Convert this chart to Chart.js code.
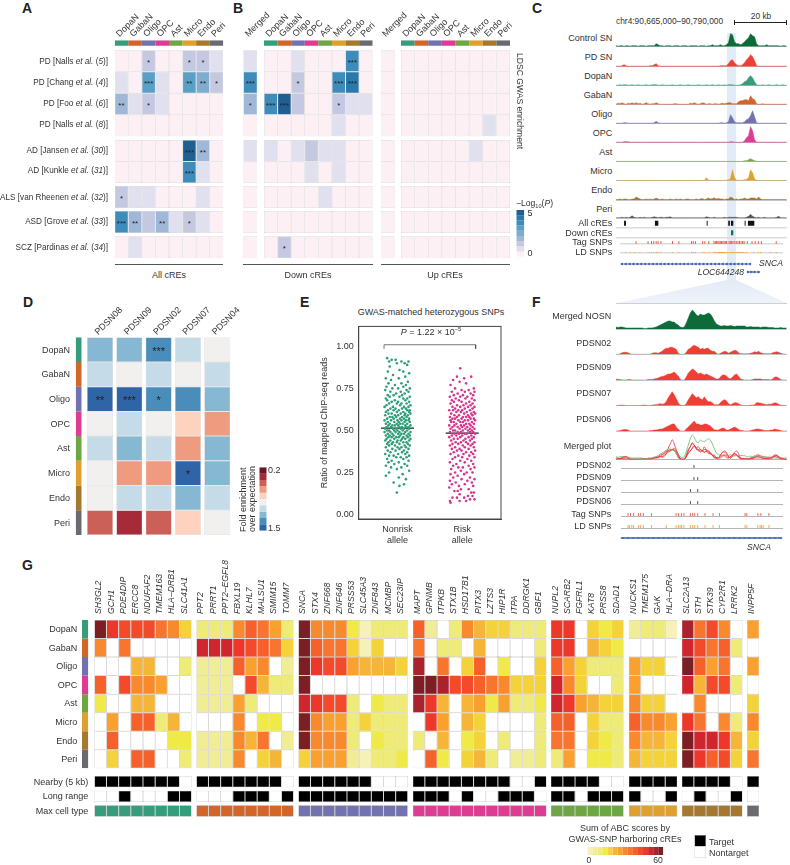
<!DOCTYPE html>
<html>
<head>
<meta charset="utf-8">
<title>Panels A-G</title>
<script src="https://cdn.jsdelivr.net/npm/chart.js@4/dist/chart.umd.min.js"></script>
<style>
  html, body { margin: 0; background: #fff; }
  #page { position: relative; width: 790px; height: 865px; overflow: hidden; font-family: "Liberation Sans", Arial, sans-serif; color: #333; }
  #page canvas { position: absolute; }
  .txt { position: absolute; white-space: nowrap; line-height: 1; }
  .rule { position: absolute; }
  sup, sub { font-size: 65%; line-height: 0; }
</style>
</head>
<body>
<div id="page"></div>
<script>
// Shared names
const cellNames = ['DopaN', 'GabaN', 'Oligo', 'OPC', 'Ast', 'Micro', 'Endo', 'Peri'];
const cellColors = ['#369d7c', '#d2652a', '#7272b0', '#dc3d92', '#6fa644', '#e0a030', '#a5772f', '#6a6a70'];

// Panels A and B: -log10(P) levels, rows are the GWAS studies
const ldscStudies = ['PD [Nalls <i>et al.</i> (<i>5</i>)]', 'PD [Chang <i>et al.</i> (<i>4</i>)]', 'PD [Foo <i>et al.</i> (<i>6</i>)]', 'PD [Nalls <i>et al.</i> (<i>8</i>)]', 'AD [Jansen <i>et al.</i> (<i>30</i>)]', 'AD [Kunkle <i>et al.</i> (<i>31</i>)]', 'ALS [van Rheenen <i>et al.</i> (<i>32</i>)]', 'ASD [Grove <i>et al.</i> (<i>33</i>)]', 'SCZ [Pardinas <i>et al.</i> (<i>34</i>)]'];
const ldscColors = ['#fdf0f5', '#e0e0ee', '#c4c8e0', '#a0b8d8', '#7fadcf', '#5a9fc5', '#3d8cba', '#2b79aa', '#1f5f92'];
const allCres = [[0,0,2,0,0,2,2,1],[1,0,5,1,0,5,4,2],[3,1,2,1,0,0,0,0],[0,0,0,0,0,0,0,0],[0,0,0,0,0,8,3,0],[0,0,0,0,0,6,1,0],[2,1,1,0,0,0,1,0],[6,3,2,3,1,2,1,0],[0,1,0,0,0,0,0,0]];
const allStars = [[0,0,1,0,0,1,1,0],[0,0,3,0,0,2,2,1],[2,0,1,0,0,0,0,0],[0,0,0,0,0,0,0,0],[0,0,0,0,0,3,2,0],[0,0,0,0,0,3,0,0],[1,0,0,0,0,0,0,0],[3,2,0,2,0,1,0,0],[0,0,0,0,0,0,0,0]];
const downMerged = [1,6,3,0,1,0,0,0,0];
const downMergedStars = [0,3,1,0,0,0,0,0,0];
const downCres = [[0,0,1,0,0,0,6,0],[0,0,2,0,0,6,7,0],[6,8,2,0,0,2,1,1],[0,0,0,0,0,1,0,0],[1,0,1,2,1,1,0,0],[0,0,0,1,0,1,0,0],[0,0,0,0,1,0,0,0],[0,0,0,0,0,0,0,0],[0,2,0,0,0,0,0,0]];
const downStars = [[0,0,0,0,0,0,3,0],[0,0,1,0,0,3,3,0],[3,3,0,0,0,1,0,0],[0,0,0,0,0,0,0,0],[0,0,0,0,0,0,0,0],[0,0,0,0,0,0,0,0],[0,0,0,0,0,0,0,0],[0,0,0,0,0,0,0,0],[0,1,0,0,0,0,0,0]];
const upMerged = [0,0,0,0,0,0,0,0,0];
const upCres = [[0,0,0,0,0,0,0,0],[0,0,0,0,0,0,0,0],[0,0,0,0,0,0,0,0],[0,0,0,0,0,0,1,0],[0,0,0,0,0,1,0,0],[0,0,0,0,0,0,0,0],[0,0,0,0,0,0,0,0],[0,0,0,0,0,0,0,0],[0,0,0,0,0,0,0,0]];

// Panel C: signal per 1.45 kb bin along the 125 kb window
const controlSN = [1,.5,1,1,.5,1,1,.5,1,1,1,.5,1,1,1,.5,1,1,1,1,3,2,1,1,.5,1,1,1,.5,1,1,1,.5,1,1,1,.5,1,1,1,1,.5,1,1,1,.5,1,1,2,1,1,1,2,1,1,2,4,13,12,5,3,3,2,3,5,7,9,13,11,10,3,1,1,1,1,2,1,1,1,1,1,1,.5,1,1,.5];
const pdSN = [.5,.5,.5,1,2,1,.5,.5,.5,.5,.5,.5,.5,.5,.5,.5,.5,1,1,2,3,1,.5,.5,.5,.5,.5,.5,.5,.5,.5,.5,.5,.5,.5,.5,.5,.5,.5,.5,.5,.5,.5,.5,.5,.5,.5,.5,.5,.5,.5,.5,1,1,1,1,3,6,7,4,2,1,1,2,4,7,9,12,10,6,1,.5,.5,.5,.5,.5,.5,.5,.5,.5,.5,.5,.5,.5,.5,.5];
const dopaSignal = [.5,.5,1,.5,1,1,.5,.5,1,.5,.5,1,.5,.5,.5,1,.5,.5,1,1,1,.5,.5,1,.5,.5,.5,.5,1,.5,.5,.5,1,.5,.5,.5,1,.5,.5,.5,.5,1,.5,.5,.5,1,.5,.5,1,.5,.5,1,.5,.5,1,.5,1,1,1,.5,.5,.5,1,2,4,5,8,10,8,4,1,.5,.5,1,.5,.5,1,.5,.5,.5,1,.5,.5,1,.5,.5];
const gabaSignal = [.5,1.5,1,2,1,.5,1.5,1,2,1,2,1,1.5,.5,1,2,1,.5,1,1,2,1,.5,.5,.5,.5,.5,.5,.5,1,1,.5,.5,.5,.5,.5,.5,1.5,1,2,1,.5,1,2,1.5,.5,1,1,.5,1,1,.5,1,1.5,1,1.5,2,2,1,1,1,3,4,4,5,5,4,9,6,5,1,.5,.5,1,.5,.5,.5,.5,.5,.5,.5,.5,.5,.5,.5,.5];
const oligoSignal = [.5,.5,.5,.5,1,1,.5,.5,.5,.5,.5,.5,.5,.5,.5,.5,.5,.5,.5,1,2.5,1,.5,.5,.5,.5,.5,.5,.5,.5,.5,.5,.5,.5,.5,.5,.5,.5,.5,.5,.5,.5,.5,.5,.5,.5,.5,.5,.5,.5,.5,.5,1,1,.5,1,2,9,6,2,1,1,1,1,2,4,5,8,13,7,1,.5,.5,.5,.5,.5,.5,.5,.5,.5,.5,.5,.5,.5,.5,.5];
const opcSignal = [.5,.5,.5,.5,1,1,1,.5,.5,.5,.5,.5,.5,.5,.5,.5,.5,.5,.5,.5,.5,.5,.5,.5,.5,.5,.5,.5,.5,.5,.5,.5,.5,.5,.5,.5,.5,.5,.5,.5,.5,.5,.5,.5,.5,.5,.5,.5,.5,.5,.5,.5,.5,.5,.5,.5,.5,1,1,.5,.5,.5,.5,.5,2,5,7,16,12,3,.5,.5,.5,.5,.5,.5,.5,.5,.5,.5,.5,.5,.5,.5,.5,.5];
const astSignal = [.3,.3,.3,.3,.3,.3,.3,.3,.3,.3,.3,.3,.3,.3,.3,.3,.3,.3,.3,.3,.3,.3,.3,.3,.3,.3,.3,.3,.3,.3,.3,.3,.3,.3,.3,.3,.3,.3,.3,.3,.3,.3,.3,.3,.3,.3,.3,.3,.3,.3,.3,.3,.3,.3,.3,.3,.3,.3,.3,.3,.3,.3,.3,.3,1,1,2,3,2,1,.5,.3,.3,.3,.3,.3,.3,.3,.3,.3,.3,.3,.3,.3,.3,.3];
const microSignal = [.3,.3,.3,.3,.3,.3,.3,.3,.5,.3,.3,.3,.3,.3,.3,.3,.5,.3,.3,.3,.3,.3,.3,.3,.3,.3,.3,.3,.3,.3,.3,.3,.3,.3,.3,.3,.3,.3,.3,.3,.3,.3,.3,.3,.5,3,1,.3,.3,.3,.3,.3,.3,.3,.3,.5,1,2,11,3,.5,.3,.5,.5,1,1.5,3,11,8,2,.5,.3,.3,.3,.3,.3,.3,.3,.3,.3,.3,.3,.3,.3,.3,.3];
const endoSignal = [.5,.5,1,.5,1,1,.5,.5,1,1,3,2,1,.5,.5,1,.5,1,.5,1,2,1,.5,1,.5,.5,.5,1,.5,.5,1,.5,1,.5,.5,1,1,.5,.5,.5,1,.5,1,1.5,.5,1,2,1,1.5,2,1,1.5,1,1,.5,1,1,3,2,.5,1,.5,1,1,2,1,1,2,2,2,1,3,1,.5,.5,.5,.5,.5,.5,.5,.5,.5,.5,.5,.5,.5];
const periSignal = [.5,.5,.5,1,.5,1,.5,1,2.5,1,.5,.5,1,.5,1,.5,.5,.5,1,1.5,1,.5,1,1,.5,1,1,1.5,.5,.5,.5,.5,.5,.5,.5,.5,.5,.5,.5,.5,.5,.5,.5,.5,.5,1.5,1,.5,.5,1,.5,.5,.5,.5,1,.5,1,1,1,1,1,.5,.5,.5,.5,1,2,4,2,1,.5,1,.5,.5,1,.5,.5,.5,.5,.5,1,2,.5,.5,.5,.5];
const allCreSpans = [[5.9,7.3],[28.5,31],[66.4,67.1],[82.2,83.4],[84.2,85.9],[94.2,94.9],[96.6,101.3]];
const downCreSpans = [[84.2,85.9]];
const tagSnpKb = [11.7,21,23.7,25.4,27.3,28.8,31,40,44.9,54.7,56.1,57.8,63.4,65.1,68.1,72.2,73.2,74.2,75.2,76.1,77.1,78.1,79.1,80,81,82,83.9,84.9,85.9,86.9,88.3,89.5,90.8,92,93.2,94.4,95.6,98.1,101.7,104.2,106.6,109,120.5];
const ldSnpKb = [3.7,7.3,10.7,14.6,21,23.7,25.4,27.3,28.8,31,40,44.9,54.7,56.1,57.8,63.4,65.1,68.1,72.2,72.9,73.6,74.4,75.1,75.8,76.6,77.3,78,78.8,79.5,80.2,81,81.7,82.4,84,84.8,85.5,86.3,87,87.8,88.5,89.3,90,90.8,91.5,92.3,93,93.8,95,96.3,97.5,103,106.6,108.3,115.9,120.5];
const sncaArrowsKb = [1,4,7,10,13,16,19,22,25,28,31,34,37,40,43,46,49,52,55,58,61,64,67,70,73,76,79,82,85,88,91,94,97,100];
const locArrowsKb = [98.5,101,103.5,106.5];

// Panel D: fold enrichment levels, rows are cell types
const donors = ['PDSN08', 'PDSN09', 'PDSN02', 'PDSN07', 'PDSN04'];
const foldColors = ['#2f64a6', '#4a8dbb', '#86b8d3', '#c5dbe7', '#f1f0ee', '#fdd3bf', '#ee9b7f', '#cb6058', '#a62a37', '#6c1429'];
const foldLevels = [[2,2,1,3,4],[3,4,3,4,3],[0,0,1,1,2],[4,3,4,5,6],[3,2,3,6,2],[4,6,6,0,2],[4,3,3,2,3],[7,8,7,5,4]];
const foldStars = [[0,0,3,0,0],[0,0,0,0,0],[2,3,1,0,0],[0,0,0,0,0],[0,0,0,0,0],[0,0,0,1,0],[0,0,0,0,0],[0,0,0,0,0]];

// Panel E: [jitter in hundredths, ratio in hundredths]
const nonriskReads = [[-16,93],[-9,92],[-3,92],[-13,91],[6,91],[17,91],[11,90],[-1,90],[15,89],[-12,88],[3,86],[-15,85],[9,85],[18,84],[-7,83],[12,82],[-18,81],[2,81],[-10,80],[16,79],[6,78],[-14,78],[13,77],[-4,77],[-17,76],[9,76],[19,75],[-8,75],[1,75],[-19,74],[14,74],[-11,73],[5,73],[17,73],[-2,72],[11,72],[-15,71],[7,71],[-6,71],[19,70],[-12,70],[3,70],[15,69],[-18,69],[9,69],[-4,68],[12,68],[-16,68],[1,67],[18,67],[-9,67],[6,66],[-13,66],[14,66],[-1,66],[20,65],[-17,65],[4,65],[10,64],[-7,64],[17,64],[-20,64],[-3,63],[13,63],[7,63],[-11,63],[19,62],[-15,62],[2,62],[15,62],[-6,62],[9,61],[-18,61],[18,61],[-1,61],[12,60],[-9,60],[5,60],[-14,60],[20,60],[-4,59],[11,59],[-19,59],[1,59],[16,59],[-8,58],[7,58],[-12,58],[14,58],[-2,58],[18,57],[-16,57],[4,57],[10,57],[-6,57],[-20,56],[13,56],[0,56],[-10,56],[17,56],[6,56],[-15,55],[2,55],[19,55],[-5,55],[11,55],[-12,54],[8,54],[-18,54],[15,54],[-1,54],[4,54],[-8,53],[20,53],[-14,53],[12,53],[1,53],[-4,53],[17,52],[-17,52],[7,52],[-10,52],[13,52],[3,52],[-2,51],[-19,51],[10,51],[18,51],[-7,51],[5,51],[-13,50],[15,50],[0,50],[-16,50],[8,50],[-5,50],[20,49],[-11,49],[3,49],[12,49],[-20,49],[-3,49],[17,48],[-8,48],[6,48],[-15,48],[10,48],[1,48],[-12,47],[19,47],[-6,47],[14,47],[4,47],[-18,47],[9,46],[-2,46],[-14,46],[16,46],[-9,46],[2,46],[20,45],[-17,45],[7,45],[-5,45],[12,45],[-11,44],[0,44],[18,44],[-19,44],[5,44],[-7,43],[14,43],[-14,43],[9,43],[-1,43],[16,42],[-16,42],[3,42],[-9,42],[11,41],[-4,41],[19,41],[-13,41],[6,40],[-18,40],[13,40],[0,40],[-8,39],[17,39],[3,39],[-15,38],[10,38],[-3,38],[-11,37],[15,37],[7,37],[-19,36],[1,36],[12,36],[-6,35],[18,35],[-13,35],[5,34],[-2,34],[14,34],[-16,33],[9,33],[-9,32],[17,32],[2,31],[-14,31],[11,30],[-5,30],[-18,29],[15,29],[6,28],[-10,28],[-1,27],[18,26],[-13,25],[8,24],[-18,23],[2,22],[13,21],[-6,19],[10,18],[3,17],[-1,13]];
const riskReads = [[-3,87],[14,82],[-8,82],[3,81],[-14,80],[-4,79],[6,78],[-18,77],[18,75],[-11,75],[10,74],[-1,74],[19,73],[-16,73],[4,73],[13,72],[-7,72],[-13,71],[17,71],[1,71],[8,70],[-19,70],[-3,70],[15,69],[-10,69],[5,69],[-16,68],[19,68],[-5,68],[11,67],[-1,67],[-13,67],[16,66],[6,66],[-18,66],[-8,65],[2,65],[13,65],[19,64],[-15,64],[-3,64],[9,64],[-11,63],[16,63],[4,63],[-20,62],[-6,62],[12,62],[0,62],[-14,62],[18,61],[7,61],[-9,61],[-2,61],[14,60],[-17,60],[3,60],[20,60],[-12,59],[9,59],[-5,59],[16,59],[-19,58],[1,58],[11,58],[-8,58],[6,58],[-15,57],[18,57],[-1,57],[13,57],[-11,57],[4,56],[-18,56],[20,56],[-6,56],[9,56],[-13,55],[15,55],[1,55],[-3,55],[-17,55],[11,54],[6,54],[-9,54],[18,54],[-20,53],[-2,53],[13,53],[-12,53],[3,53],[16,52],[-7,52],[8,52],[-15,52],[0,52],[-18,51],[12,51],[19,51],[-4,51],[5,51],[-11,50],[15,50],[-14,50],[1,50],[9,50],[-7,49],[17,49],[-19,49],[-2,49],[12,49],[4,48],[-12,48],[20,48],[-5,48],[7,48],[-16,47],[14,47],[0,47],[-9,47],[18,46],[-3,46],[10,46],[-20,46],[5,45],[-13,45],[15,45],[-7,45],[2,44],[-17,44],[12,44],[19,43],[-10,43],[6,43],[-2,43],[-15,42],[16,42],[9,42],[-6,42],[1,41],[-19,41],[13,41],[-11,40],[18,40],[4,40],[-4,39],[-16,39],[10,39],[20,38],[-8,38],[-1,38],[14,37],[-13,37],[6,37],[-18,36],[2,36],[17,36],[-6,35],[11,35],[-11,34],[19,34],[0,34],[-15,33],[8,33],[-3,32],[14,32],[-19,31],[4,31],[-9,30],[17,30],[-14,29],[10,29],[1,28],[-6,28],[19,28],[-17,27],[13,27],[-2,26],[7,25],[-11,25],[16,25],[-18,24],[3,24],[-7,23],[12,22],[-14,22],[19,21],[-1,21],[-19,20],[8,20],[-10,19],[15,19],[-16,18],[4,18],[-5,17],[17,17],[-20,16],[10,15],[-2,15],[-12,14],[-7,14],[14,13],[18,13],[-4,12],[9,11],[16,11],[-15,10],[-8,10],[3,10],[12,9],[19,9],[-19,8],[-4,8],[6,8],[-18,7]];
const eTicks = [0, .25, .5, .75, 1];
const nonriskMean = .514;
const riskMean = .484;

// Panel F: finer signal across the SNCA window
const mergedNOSN = [2,1.5,2,2,1.5,1,1,1,1,1,1,1,1,1,.5,.5,1,1,1,1.5,2,3,4,5,6,7,8,8,7,7,5,4,2,1.5,2,6,11,16,19,17,14,13,15,14,14,15,16,15,12,8,5,4,3,3,3.5,3,3,3.5,3,2.5,3,3,3,3,3,2,2,2.5,2,2,2,2,1.5,2,2,2,1.5,1.5,1.5,1,1,1,1.5,1,1,1];
const pdsn02Signal = [0,0,.5,1.5,2,2,1.5,.5,0,0,0,0,0,0,0,0,0,0,1,1.5,1.5,1,2,3,5,6,6,7,7,6,5,1,0,0,0,2,5,6,8,9,8,7,5,6,5,6,6,4,3,3,1,0,1,2,3,2.5,1,2,3,4,3.5,1.5,.5,.5,.5,.5,.5,1,1.5,2.5,2,3,1.5,1,.5,.5,.5,.5,1.5,2,2.5,2,1,.5,0,0];
const pdsn09Signal = [1,.5,.5,0,0,0,.5,.5,0,0,0,0,0,0,0,0,.5,.5,.5,1,1.5,2,3,3.5,4,5,6,6,7,8,6,4,.5,0,0,3,7,9,11,10,8,6,7,6,5,6,5,4,3,2,1,1,3,5,5,4,2,1,3,5,6,4,1,.5,0,0,0,0,.5,1,1,1,1,.5,.5,.5,.5,0,1,3,3,2,.5,0,0,0];
const pdsn07Signal = [0,0,.5,.5,.5,0,0,0,0,0,0,0,0,.5,.5,.5,0,0,.5,1,1,1.5,2,1.5,2,4,8,11,14,11,7,3,.5,0,0,2,6,9,12,10,8,9,7,6,9,6,4,4,3,1,1,1,3,5,6,5,2,1,2,3,3,2,1,0,0,0,0,.5,.5,1,3,3,2.5,2,1.5,1,1.5,1.5,2,3,2.5,1.5,.5,.5,0,0];
const pdsn06Signal = [0,0,.5,1,1.5,1.5,1,0,0,0,0,0,0,0,0,0,0,.5,.5,1,1,1.5,2,2,3,4,5,6,7,7,4,2,0,0,0,2,4,6,8,10,7,7,6,6,7,7,6,5,3,1,1,1,2,3,2.5,1,1,2,3,4,3,1.5,.5,.5,0,0,0,.5,1,1.5,2,2,1.5,1,.5,.5,.5,1,1,2,1.5,1,.5,0,0,0];
const snpPdsn02 = [2.9];
const snpPdsn09 = [2.9, 3.05];
const snpPdsn07 = [2.76, 3.05];
const snpPdsn06 = [2.76, 3.05];
const tagSnpNear = [.28,.38,.5,.69,.78,.89,1.21,2.19,2.29,2.4,2.5,2.76,2.85,2.93,3.05,3.34,3.66,3.91,4.93,5,5.44,5.56,5.88];
const ldSnpNear = [.28,.34,.43,.5,.7,.78,.89,1.21,1.8,2.19,2.28,2.35,2.41,2.5,2.76,2.85,2.93,3.05,3.34,3.66,3.91,4.93,5,5.44,5.53,5.59,5.65,5.88];
const sncaHatchNear = [.1,.3,.5,.7,.9,1.1,1.3,1.5,1.7,1.9,2.1,2.3,2.5,2.7,2.9,3.1,3.3,3.5,3.7,3.9,4.1,4.3,4.5,4.7,4.9,5.1,5.3,5.5,5.7,5.9,6.1,6.3];

// Panel G: ABC score levels (0 = no score), one table per max cell type
const abcColors = ['#ffffff', '#f5f1b8', '#f1ed97', '#efeb78', '#f0ea48', '#f4d33a', '#f5b539', '#f9a02f', '#f88a2d', '#f7752e', '#f5602b', '#f24a2a', '#ee372b', '#d0252f', '#a8232d', '#7b1f24'];
const geneGroups = [
  ['SH3GL2', 'GCH1', 'PDE4DIP', 'ERCC8', 'NDUFAF2', 'TMEM163', 'HLA–DRB1', 'SLC41A1'],
  ['PPT2', 'PRRT1', 'PPT2–EGFL8', 'FBXL19', 'KLHL7', 'MALSU1', 'SMIM15', 'TOMM7'],
  ['SNCA', 'STX4', 'ZNF668', 'ZNF646', 'PRSS53', 'SLC45A3', 'ZNF843', 'MCMBP', 'SEC23IP'],
  ['MAPT', 'GPNMB', 'ITPKB', 'STX1B', 'HSD17B1', 'PITX3', 'LZTS3', 'HIP1R', 'ITPA', 'DDRGK1', 'GBF1'],
  ['NUPL2', 'SCARB2', 'FGFRL1', 'KAT8', 'PRSS8', 'SDAD1'],
  ['NUCKS1', 'TMEM175', 'GAK', 'HLA–DRA'],
  ['SLC2A13', 'STH', 'STK39', 'CYP2R1', 'LRRK2'],
  ['INPP5F']
];
const abcScores = [
  [[15,12,11,11,11,9,8,5],[8,0,9,0,0,0,0,0],[0,0,0,6,6,0,0,3],[10,0,11,8,8,7,0,0],[4,0,0,6,6,0,0,0],[0,7,0,10,10,3,6,0],[0,10,0,0,0,0,4,4],[0,5,0,10,10,0,0,3]],
  [[3,3,3,8,10,9,7,3],[13,13,13,12,11,10,9,5],[2,2,2,10,7,8,0,2],[2,2,2,0,11,6,3,3],[2,2,2,7,3,0,0,0],[0,0,0,8,0,4,4,0],[2,2,2,8,6,9,0,2],[2,2,2,8,0,5,6,0]],
  [[15,8,8,8,4,1,3,3,3],[15,10,9,9,5,1,5,0,0],[15,12,11,11,7,6,6,6,5],[15,0,0,0,0,0,0,0,0],[13,12,11,11,3,0,4,3,3],[15,8,7,7,3,5,3,3,3],[15,8,8,8,3,0,4,3,3],[5,7,7,7,2,1,3,3,4]],
  [[10,2,0,3,8,6,5,5,3,3,3],[9,0,3,3,0,6,0,0,0,0,3],[14,0,9,0,5,10,0,4,0,0,5],[15,15,14,11,11,10,9,8,5,5,5],[14,12,6,0,6,7,4,7,3,3,4],[0,12,7,0,6,5,0,0,0,0,3],[3,0,6,0,4,5,0,3,0,0,3],[0,10,4,0,5,6,3,0,2,2,3]],
  [[12,12,0,5,4,5],[12,12,0,6,5,4],[10,7,5,3,3,3],[13,8,5,0,0,3],[13,12,7,6,5,5],[10,10,0,5,3,3],[9,9,0,5,4,3],[3,7,0,4,4,3]],
  [[2,3,3,1],[0,0,0,0],[7,5,5,0],[7,0,0,0],[8,5,5,0],[10,8,8,7],[8,6,6,5],[6,5,5,5]],
  [[14,9,11,8,0],[13,11,9,10,3],[15,10,7,9,0],[13,6,11,11,3],[0,8,0,0,0],[12,9,0,8,3],[15,13,13,12,6],[15,12,10,11,5]],
  [[7],[0],[7],[0],[5],[8],[5],[9]]
];
const nearby5kb = [[1,1,1,1,1,1,1,0],[1,1,1,1,1,1,1,0],[1,1,1,1,1,1,0,0,0],[1,1,1,1,1,1,1,1,0,0,1],[1,1,1,1,0,0],[1,1,1,1],[1,1,1,1,0],[1]];
const longRange = [[0,0,1,0,0,0,1,1],[0,0,0,1,1,1,0,1],[1,1,1,1,1,1,1,1,1],[1,1,1,0,1,0,0,1,1,1,0],[1,1,0,1,1,1],[1,0,0,1],[0,1,0,0,1],[0]];

// Helpers
const page = document.getElementById('page');
const cellLine = '#b4b0b4';
Chart.defaults.font.family = '"Liberation Sans", Arial, sans-serif';
Chart.defaults.color = '#333';
Chart.defaults.animation = false;
Chart.defaults.responsive = false;
Chart.defaults.devicePixelRatio = 1;
Chart.defaults.events = [];
Chart.defaults.plugins.legend.display = false;
Chart.defaults.plugins.tooltip.enabled = false;

// prints the asterisks kept on a dataset over its bars
Chart.register({
  id: 'cellStars',
  afterDatasetsDraw(chart) {
    const ctx = chart.ctx;
    chart.data.datasets.forEach((ds, i) => {
      if (!ds.stars) return;
      chart.getDatasetMeta(i).data.forEach((bar, k) => {
        if (!ds.stars[k]) return;
        const size = ds.starSize || 8;
        ctx.save();
        ctx.fillStyle = '#222';
        ctx.font = size + 'px "Liberation Sans"';
        ctx.textAlign = 'center';
        ctx.textBaseline = 'middle';
        ctx.fillText('*'.repeat(ds.stars[k]), bar.x, (bar.y + bar.base) / 2 + size * .2);
        ctx.restore();
      });
    });
  }
});

function mount(x, y, w, h, right = 0, bottom = 1, extraLeft = 0) {
  const canvas = document.createElement('canvas');
  const cx = Math.floor(x - extraLeft), cy = Math.floor(y);
  const left = x - cx, top = y - cy;
  const cw = Math.ceil(left + w + right), ch = Math.ceil(top + h + bottom);
  canvas.width = cw;
  canvas.height = ch;
  canvas.style.left = cx + 'px';
  canvas.style.top = cy + 'px';
  canvas.style.width = cw + 'px';
  canvas.style.height = ch + 'px';
  page.appendChild(canvas);
  return { canvas, padding: { left, top, right: cw - left - w, bottom: ch - top - h } };
}

function label(html, x, y, opt = {}) {
  const el = document.createElement('div');
  el.className = 'txt';
  el.innerHTML = html;
  const shift = { left: '0', center: '-50%', right: '-100%' }[opt.align || 'left'];
  el.style.left = x + 'px';
  el.style.top = y + 'px';
  el.style.fontSize = (opt.size || 9) + 'px';
  if (opt.bold) el.style.fontWeight = 'bold';
  if (opt.color) el.style.color = opt.color;
  el.style.transform = 'translate(' + shift + ',-50%)' + (opt.rotate ? ' rotate(' + opt.rotate + 'deg)' : '');
  page.appendChild(el);
}

function rule(x, y, w, h, color) {
  const el = document.createElement('div');
  el.className = 'rule';
  el.style.cssText += 'left:' + x + 'px;top:' + y + 'px;width:' + w + 'px;height:' + h + 'px;background:' + color;
  page.appendChild(el);
  return el;
}

// heatmap as a stacked bar chart: each entry of rows is one stacked layer, without colors it is a spacer
function cellChart(x, y, w, rows, opt = {}) {
  const cols = opt.labels || rows.find(r => r.colors).colors.map(() => '');
  const total = rows.reduce((s, r) => s + r.h, 0);
  const head = opt.labels ? opt.head : 0;
  const box = mount(x, y - head, w, total + head, opt.labels ? 34 : 0, 1, opt.labels ? 14 : 0);
  new Chart(box.canvas, {
    type: 'bar',
    data: {
      labels: cols,
      datasets: rows.map(r => ({
        data: cols.map(() => r.h),
        backgroundColor: r.colors || 'transparent',
        borderColor: r.colors ? (r.line || cellLine) : 'transparent',
        borderWidth: r.colors && r.line !== 'none' ? .5 : 0,
        borderSkipped: false,
        inflateAmount: 0,
        barPercentage: 1,
        categoryPercentage: opt.fill || 1,
        stars: r.stars,
        starSize: opt.starSize
      }))
    },
    options: {
      layout: { padding: box.padding },
      scales: {
        x: {
          stacked: true,
          position: 'top',
          display: !!opt.labels,
          grid: { display: false, drawTicks: false },
          border: { display: false },
          ticks: {
            autoSkip: false,
            minRotation: opt.rotation || 0,
            maxRotation: opt.rotation || 0,
            padding: opt.tickPad || 0,
            labelOffset: opt.labelOffset || 0,
            color: '#333',
            font: { size: opt.size || 9, style: opt.italic ? 'italic' : 'normal' }
          },
          afterFit(s) { s.height = head; s.paddingLeft = 0; s.paddingRight = 0; }
        },
        y: { stacked: true, display: false, reverse: true, min: 0, max: total }
      }
    }
  });
}

const hiddenTicks = { ticks: { display: false }, grid: { display: false, drawTicks: false }, afterFit(s) { s.height = 0; s.paddingLeft = 0; s.paddingRight = 0; } };

// filled signal track standing on y = base
function track(x, base, w, h, values, color) {
  const box = mount(x, base - h, w, h);
  new Chart(box.canvas, {
    type: 'line',
    data: {
      labels: values.map((v, i) => i),
      datasets: [{ data: values, borderColor: color, backgroundColor: color, borderWidth: .5, pointRadius: 0, fill: 'origin' }]
    },
    options: {
      layout: { padding: box.padding },
      scales: {
        x: { ...hiddenTicks, border: { color: '#a9a9a9', width: .7 } },
        y: { display: false, min: 0, max: h }
      }
    }
  });
}

// row of tick marks at genomic positions, axis line under it
function snpRow(x, base, w, h, spanKb, positions, color, lineColor, lineW) {
  const box = mount(x, base - h, w, h);
  new Chart(box.canvas, {
    type: 'scatter',
    data: { datasets: [{ data: positions.map(p => ({ x: p, y: 0 })), pointStyle: 'line', pointRotation: 90, pointRadius: 3.3, pointBorderColor: color, pointBorderWidth: 1 }] },
    options: {
      layout: { padding: box.padding },
      scales: {
        x: { ...hiddenTicks, type: 'linear', min: 0, max: spanKb, border: { color: lineColor, width: lineW } },
        y: { display: false, min: -1, max: 1 }
      }
    }
  });
}

// row of genomic spans as floating bars
function spanRow(x, base, w, h, spanKb, spans, color, barH) {
  const box = mount(x, base - h, w, h);
  new Chart(box.canvas, {
    type: 'bar',
    data: {
      labels: [''],
      datasets: spans.map(s => ({ data: [s], backgroundColor: color, grouped: false, barThickness: barH, inflateAmount: 0 }))
    },
    options: {
      indexAxis: 'y',
      layout: { padding: box.padding },
      scales: {
        x: { ...hiddenTicks, type: 'linear', min: 0, max: spanKb, border: { color: '#dcdcdc', width: 1.5 } },
        y: { display: false }
      }
    }
  });
}

// gene model: a line with arrow marks on it
function geneRow(x, y, w, spanKb, start, end, marks, style, rotation, radius, lineW) {
  const box = mount(x, y - 5, w, 10);
  new Chart(box.canvas, {
    type: 'scatter',
    data: {
      datasets: [
        { data: [{ x: start, y: 0 }, { x: end, y: 0 }], showLine: true, pointRadius: 0, borderColor: '#3c5db0', borderWidth: lineW },
        { data: marks.map(p => ({ x: p, y: 0 })), pointStyle: style, pointRotation: rotation, pointRadius: radius, pointBackgroundColor: '#3c5db0', pointBorderColor: '#3c5db0', pointBorderWidth: .6 }
      ]
    },
    options: {
      layout: { padding: box.padding },
      scales: {
        x: { ...hiddenTicks, type: 'linear', min: 0, max: spanKb, border: { display: false } },
        y: { display: false, min: -1, max: 1 }
      }
    }
  });
}

// Highlight behind panel C and the funnel down to panel F
rule(727.3, 33, 8.7, 247, '#e3ebf6');
const funnel = rule(616, 280, 171, 23.3, 'linear-gradient(#e3ebf6,#eef3fa)');
funnel.style.clipPath = 'polygon(65% 0, 70.2% 0, 100% 100%, 0 100%)';

// Panel letters
[['A', 22, 8], ['B', 233, 8], ['C', 532, 8], ['D', 23, 302], ['E', 300, 302], ['F', 532, 302], ['G', 22, 565]].forEach(l =>
  label(l[0], l[1], l[2], { size: 14, bold: true, color: '#222' }));

// Panels A and B
function ldscRows(levels, stars, stripColors) {
  const blockGaps = { 3: 3.7, 5: 3, 6: 3, 7: 3.3 };
  const rows = [{ h: 5.4, colors: stripColors, line: 'none' }, { h: 4.6 }];
  levels.forEach((row, i) => {
    rows.push({ h: i < 6 ? 21.5 : 22, colors: row.map(v => ldscColors[v]), line: '#c9c2ca', stars: stars ? stars[i] : null });
    if (blockGaps[i]) rows.push({ h: blockGaps[i] });
  });
  return rows;
}
const ldscCols = { labels: cellNames, head: 38, rotation: 45, tickPad: 1, labelOffset: 4 };
cellChart(114.7, 40.3, 108.6, ldscRows(allCres, allStars, cellColors), ldscCols);
cellChart(243.3, 40.3, 14, ldscRows(downMerged.map(v => [v]), downMergedStars.map(v => [v]), null), { ...ldscCols, labels: ['Merged'] });
cellChart(264, 40.3, 108.7, ldscRows(downCres, downStars, cellColors), ldscCols);
cellChart(380.7, 40.3, 14, ldscRows(upMerged.map(v => [v]), null, null), { ...ldscCols, labels: ['Merged'] });
cellChart(401, 40.3, 109, ldscRows(upCres, null, cellColors), ldscCols);

[62.3, 83.3, 104, 125, 150.7, 171, 198.3, 222, 247.7].forEach((y, i) =>
  label(ldscStudies[i], 108, y, { align: 'right', size: 8.2 }));
rule(114.7, 264, 108.6, 1, '#555');
rule(243.3, 264, 129.4, 1, '#555');
rule(380.7, 264, 129.3, 1, '#555');
label('All cREs', 169, 275, { align: 'center' });
label('Down cREs', 308, 275, { align: 'center' });
label('Up cREs', 445, 275, { align: 'center' });
label('LDSC GWAS enrichment', 519.5, 101, { align: 'center', rotate: 90, size: 8.6 });
label('−Log<sub>10</sub>(<i>P</i>)', 516, 203, { size: 8.6 });
cellChart(516.3, 210, 8, ldscColors.slice().reverse().map(c => ({ h: 46.7 / ldscColors.length, colors: [c], line: 'none' })));
label('5', 527.5, 213);
label('0', 527.5, 253);

// Panel C
const cKb = 125;
[['Control SN', 46.7, controlSN, '#0d6b3a', 38], ['PD SN', 66.7, pdSN, '#ef3e33', 57], ['DopaN', 85.7, dopaSignal, cellColors[0], 76], ['GabaN', 104.7, gabaSignal, cellColors[1], 95],
 ['Oligo', 123.7, oligoSignal, cellColors[2], 114], ['OPC', 142.7, opcSignal, cellColors[3], 133], ['Ast', 161.7, astSignal, cellColors[4], 152], ['Micro', 180.7, microSignal, cellColors[5], 171],
 ['Endo', 200, endoSignal, cellColors[6], 190], ['Peri', 218.3, periSignal, '#555', 209]].forEach(t => {
  track(616, t[1], 170.7, 17, t[2], t[3]);
  label(t[0], 612.3, t[4], { align: 'right' });
});
label('chr4:90,665,000–90,790,000', 616, 20.7, { size: 8.4 });
label('20 kb', 761, 15.7, { align: 'center', size: 8.4 });
rule(734.3, 22.2, 52.4, 1, '#222');
rule(734.3, 20, 1, 5, '#222');
rule(785.7, 20, 1, 5, '#222');
spanRow(616, 227.3, 170.7, 8, cKb, allCreSpans, '#111', 5);
spanRow(616, 237.3, 170.7, 9.2, cKb, downCreSpans, '#0b7a4a', 5);
snpRow(616, 247.3, 170.7, 10.6, cKb, tagSnpKb, '#f0604f', '#dcdcdc', 1.5);
snpRow(616, 256.7, 170.7, 8.8, cKb, ldSnpKb, '#f7a13c', '#dcdcdc', 1.5);
label('All cREs', 612.3, 223.3, { align: 'right' });
label('Down cREs', 612.3, 232.7, { align: 'right' });
label('Tag SNPs', 612.3, 242.3, { align: 'right' });
label('LD SNPs', 612.3, 252.3, { align: 'right' });
geneRow(616, 263.3, 170.7, cKb, 0, 100.5, sncaArrowsKb, 'triangle', -90, 1.4, .8);
geneRow(616, 271.7, 170.7, cKb, 97.4, 107.8, locArrowsKb, 'triangle', 90, 1.4, .8);
label('<i>SNCA</i>', 759, 263.3, { size: 8.6 });
label('<i>LOC644248</i>', 744, 271.7, { align: 'right', size: 8.6 });

// Panel D
const dRow = 24.7;
cellChart(75.7, 337.3, 6, cellColors.map(c => ({ h: dRow, colors: [c], line: 'none' })));
cellChart(85.35, 337.3, 146.6, foldLevels.map((row, i) => ({ h: dRow, colors: row.map(v => foldColors[v]), line: '#cfcfcf', stars: foldStars[i] })),
  { labels: donors, head: 36, rotation: 45, tickPad: 0, labelOffset: 4, fill: .887, starSize: 11 });
cellNames.forEach((name, i) => label(name, 70, 337.3 + dRow * (i + .5), { align: 'right' }));
cellChart(259.3, 467.3, 7.4, foldColors.slice().reverse().map(c => ({ h: 63.4 / foldColors.length, colors: [c], line: 'none' })));
label('Fold enrichment<br>over expectation', 247.5, 499, { align: 'center', rotate: -90 });
label('0.2', 268, 470, {});
label('1.5', 268, 528, {});

// Panel E
const eBox = mount(358.7 - 40, 319.3, 144.6 + 40, 199.7 + 32, 1, 1);
new Chart(eBox.canvas, {
  type: 'scatter',
  data: {
    datasets: [
      { data: nonriskReads.map(p => ({ x: 1 + p[0] / 100, y: p[1] / 100 })), pointRadius: 1.3, pointBorderWidth: 0, backgroundColor: '#2f9e78' },
      { data: riskReads.map(p => ({ x: 2 + p[0] / 100, y: p[1] / 100 })), pointRadius: 1.3, pointBorderWidth: 0, backgroundColor: '#d6358e' },
      { data: [{ x: .745, y: nonriskMean }, { x: 1.255, y: nonriskMean }], showLine: true, pointRadius: 0, borderColor: '#222', borderWidth: 1.1 },
      { data: [{ x: 1.745, y: riskMean }, { x: 2.255, y: riskMean }], showLine: true, pointRadius: 0, borderColor: '#222', borderWidth: 1.1 },
      { data: [{ x: .792, y: .985 }, { x: .792, y: 1.01 }, { x: 2.208, y: 1.01 }, { x: 2.208, y: .985 }], showLine: true, pointRadius: 0, borderColor: '#555', borderWidth: .8 }
    ]
  },
  options: {
    layout: { padding: eBox.padding },
    scales: {
      x: {
        type: 'linear', min: .4, max: 2.6,
        grid: { display: false, tickLength: 3, tickColor: '#444' }, border: { color: '#444' },
        afterBuildTicks(s) { s.ticks = [{ value: 1 }, { value: 2 }]; },
        ticks: { callback: v => v === 1 ? ['Nonrisk', 'allele'] : ['Risk', 'allele'], font: { size: 9 }, padding: 2, maxRotation: 0 },
        afterFit(s) { s.height = 32; s.paddingLeft = 0; s.paddingRight = 0; }
      },
      y: {
        min: -.027, max: 1.119,
        grid: { display: false, tickLength: 3, tickColor: '#444' }, border: { color: '#444' },
        afterBuildTicks(s) { s.ticks = eTicks.map(value => ({ value })); },
        ticks: { callback: v => v.toFixed(2), font: { size: 9 }, padding: 2 },
        title: { display: true, text: 'Ratio of mapped ChIP-seq reads', font: { size: 9 }, padding: 0 },
        afterFit(s) { s.width = 40; }
      }
    }
  },
  plugins: [{
    id: 'frame',
    afterDatasetsDraw(chart) {
      const a = chart.chartArea, ctx = chart.ctx;
      ctx.save();
      ctx.strokeStyle = '#444';
      ctx.lineWidth = 1;
      ctx.strokeRect(a.left, a.top, a.right - a.left, a.bottom - a.top);
      ctx.restore();
    }
  }]
});
label('GWAS-matched heterozygous SNPs', 431, 311.5, { align: 'center', size: 9 });
label('<i>P</i> = 1.22 × 10<sup>−5</sup>', 431, 331.7, { align: 'center', size: 9 });

// Panel F
const fKb = 6.4;
rule(616, 303, 170.7, 1, '#cfcfcf');
[['Merged NOSN', 329, mergedNOSN, '#0d6b3a', 20, 316], ['PDSN02', 354.3, pdsn02Signal, '#ef3e33', 20, 343], ['PDSN09', 380, pdsn09Signal, '#ef3e33', 20, 366.7],
 ['PDSN07', 405.7, pdsn07Signal, '#ef3e33', 20, 393.3], ['PDSN06', 431, pdsn06Signal, '#ef3e33', 20, 419.3]].forEach(t => {
  track(616, t[1], 170.7, t[4], t[2], t[3]);
  label(t[0], 611.3, t[5], { align: 'right' });
});
const plotBox = mount(616, 459.3 - 26, 170.7, 26);
new Chart(plotBox.canvas, {
  type: 'line',
  data: {
    labels: mergedNOSN.map((v, i) => i),
    datasets: [
      { data: mergedNOSN, borderColor: '#64b864', borderWidth: .8, pointRadius: 0, tension: .3, yAxisID: 'green' },
      { data: pdsn02Signal, borderColor: '#e8393a', borderWidth: .8, pointRadius: 0, tension: .3 },
      { data: pdsn09Signal, borderColor: '#e8393a', borderWidth: .8, pointRadius: 0, tension: .3 },
      { data: pdsn07Signal, borderColor: '#e8393a', borderWidth: .8, pointRadius: 0, tension: .3 },
      { data: pdsn06Signal, borderColor: '#e8393a', borderWidth: .8, pointRadius: 0, tension: .3 }
    ]
  },
  options: {
    layout: { padding: plotBox.padding },
    scales: {
      x: { ...hiddenTicks, border: { color: '#b5b5b5' } },
      y: { display: false, min: 0, max: 18.6 },
      green: { display: false, min: 0, max: 20.3 }
    }
  }
});
label('Merged plot', 611.3, 446, { align: 'right' });
[['PDSN02', 471.3, snpPdsn02, 465.3], ['PDSN09', 483.3, snpPdsn09, 477], ['PDSN07', 495.3, snpPdsn07, 489], ['PDSN06', 507.3, snpPdsn06, 501.3]].forEach(t => {
  snpRow(616, t[1], 170.7, 11, fKb, t[2], '#555', '#b5b5b5', 1);
  label(t[0], 611.3, t[3], { align: 'right' });
});
snpRow(616, 519.3, 170.7, 11, fKb, tagSnpNear, '#ef6a5e', '#b5b5b5', 1);
snpRow(616, 531.3, 170.7, 11, fKb, ldSnpNear, '#f4ac4e', '#b5b5b5', 1);
label('Tag SNPs', 611.3, 514, { align: 'right' });
label('LD SNPs', 611.3, 525.7, { align: 'right' });
geneRow(616, 537.3, 170.7, fKb, 0, fKb, sncaHatchNear, 'crossRot', 0, 1.6, 1.6);
label('<i>SNCA</i>', 747, 546.7, { size: 8.6 });

// Panel G
const gRow = 18.54;
const gGroupX = [94.3, 196.3, 298.3, 412.7, 550.7, 628.7, 681.7, 747];
cellChart(82, 620, 6.3, cellColors.map(c => ({ h: gRow, colors: [c], line: 'none' })));
geneGroups.forEach((genes, g) => {
  const rows = abcScores[g].map(row => ({ h: gRow, colors: row.map(v => abcColors[v]), line: '#b0a8a0' }));
  const tail = [
    { h: 7.7 },
    { h: 11.3, colors: nearby5kb[g].map(v => v ? '#000' : '#fff'), line: '#aaa' },
    { h: 3.4 },
    { h: 11.3, colors: longRange[g].map(v => v ? '#000' : '#fff'), line: '#aaa' },
    { h: 3.3 },
    { h: 11.4, colors: genes.map(() => cellColors[g]), line: '#8f8f8f' }
  ];
  cellChart(gGroupX[g], 620, genes.length * 12.17, rows.concat(tail), { labels: genes, head: 66, rotation: 90, italic: true, size: 8.7, tickPad: 6, labelOffset: 9 });
});
cellNames.forEach((name, i) => label(name, 77.3, 620 + gRow * (i + .5), { align: 'right' }));
label('Nearby (5 kb)', 88.3, 781.7, { align: 'right' });
label('Long range', 88.3, 796.3, { align: 'right' });
label('Max cell type', 88.3, 811, { align: 'right' });
label('Sum of ABC scores by', 625, 828, { align: 'center' });
label('GWAS-SNP harboring cREs', 625, 839, { align: 'center' });
cellChart(587.3, 846.7, 76, [{ h: 8.3, colors: abcColors.slice(1), line: 'none' }]);
label('0', 589, 860, { align: 'center', size: 8.6 });
label('60', 658, 860, { align: 'center', size: 8.6 });
cellChart(694.3, 835, 11.7, [{ h: 11.5, colors: ['#000'], line: '#888' }, { h: 11.5, colors: ['#fff'], line: '#aaa' }]);
label('Target', 709, 841.7);
label('Nontarget', 709, 853);
</script>
</body>
</html>
